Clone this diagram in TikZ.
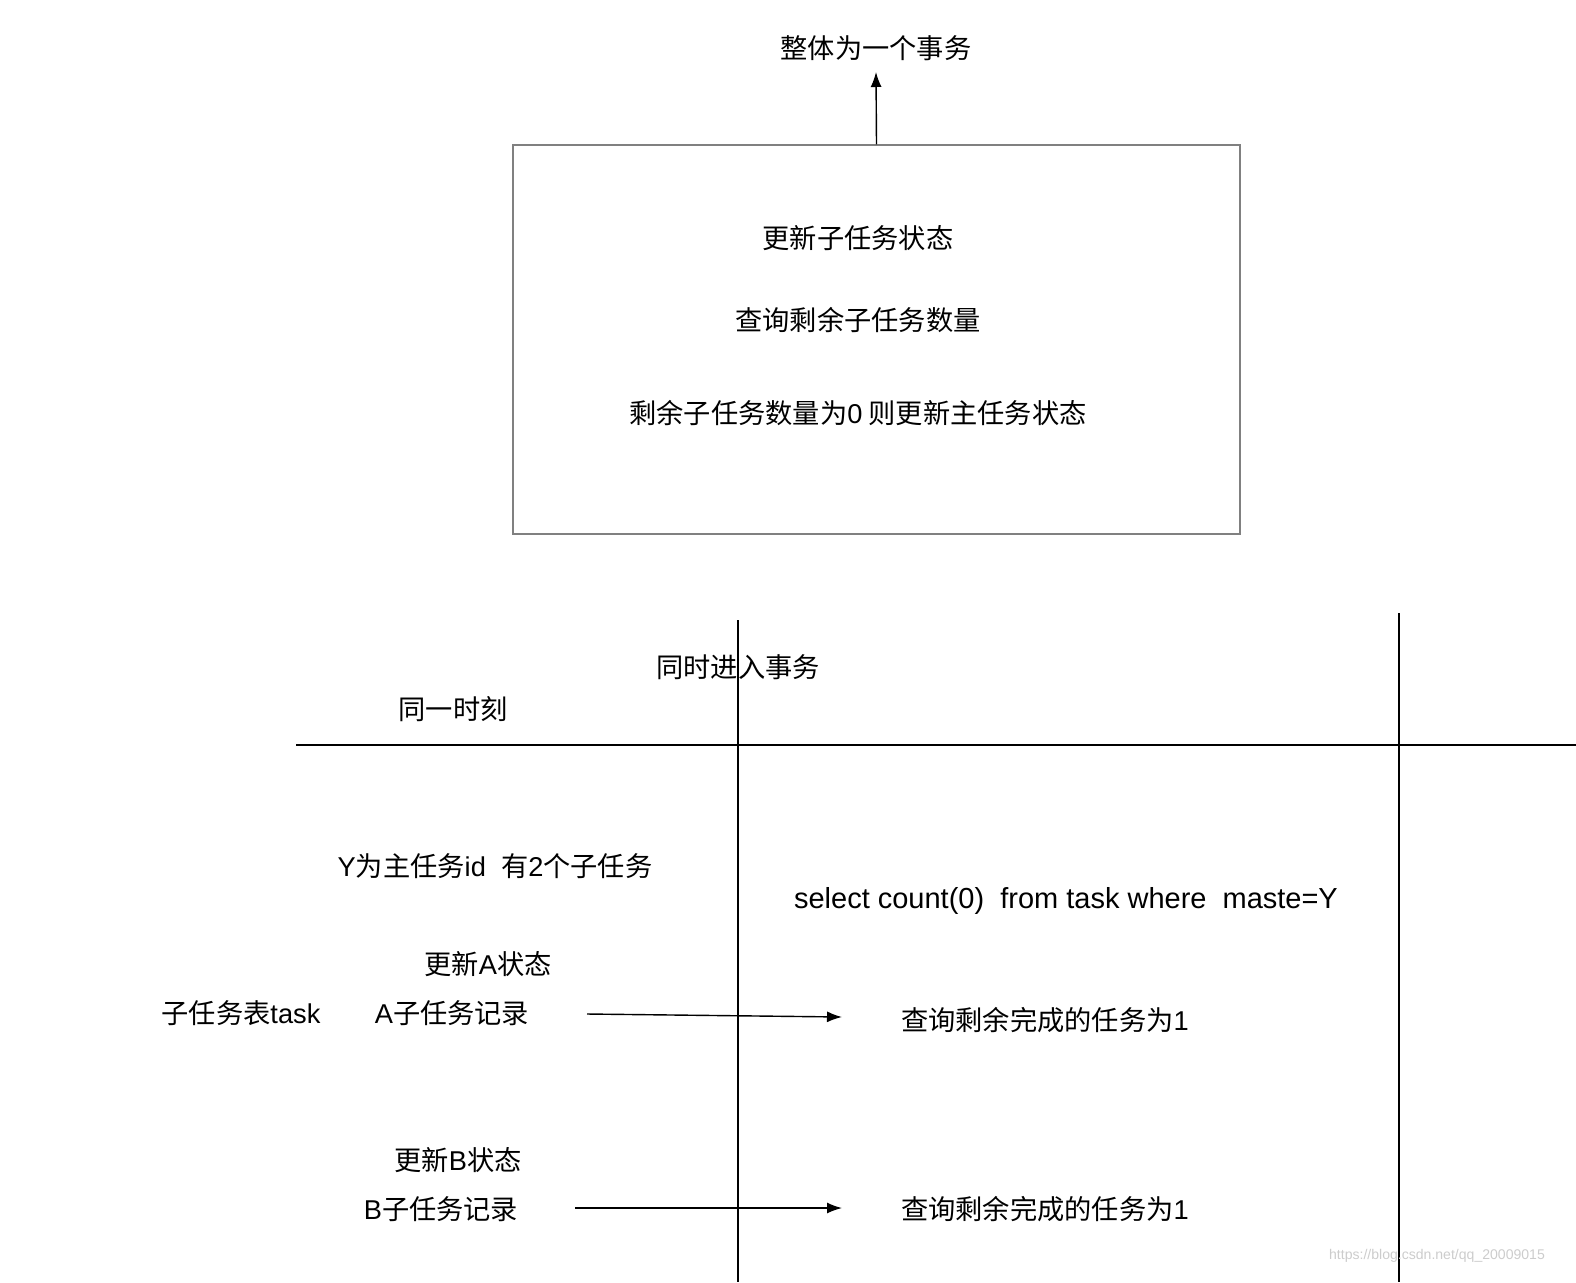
\documentclass[tikz,border=0pt]{standalone}
\usepackage{fontspec}
\setmainfont{Noto Sans CJK SC}
\newfontfamily\lat{Liberation Sans}
\usetikzlibrary{arrows.meta,positioning}

\begin{document}
\begin{tikzpicture}[x=0.02cm,y=-0.02cm,>={Latex[length=3mm,width=2.2mm]}]
	\tikzset{txt/.style={inner sep=0pt,font=\fontsize{15.5}{18}\selectfont},
		rule/.style={draw,line width=0.8pt}}
	\useasboundingbox (0,0) rectangle (1576,1282);

	%% top box
	\node[draw=gray,line width=0.8pt,minimum width=727*0.02cm,minimum height=389*0.02cm] (box) at (876.5,339.5) {};
	\node[txt] (whole) at (876,48) {整体为一个事务};
	\draw[->,line width=0.8pt] (box.north) -- (876,72) coordinate (wholein);
	\node[txt] (upd) at (858,238) {更新子任务状态};
	\node[txt] (qry) at (858,320) {查询剩余子任务数量};
	\node[txt] (rest) at (858,413) {剩余子任务数量为{\lat 0} 则更新主任务状态};

	%% table
	\coordinate (hl) at (296,745);
	\coordinate (hr) at (1576,745);
	\coordinate (v1t) at (738,620);
	\coordinate (v1b) at (738,1282);
	\coordinate (v2t) at (1399,613);
	\coordinate (v2b) at (1399,1282);
	\draw[rule] (hl) -- (hr);
	\draw[rule] (v1t) -- (v1b);
	\draw[rule] (v2t) -- (v2b);

	\node[txt] (enter) at (738,667) {同时进入事务};
	\node[txt] (same) at (453,709) {同一时刻};
	\node[txt] (ymain) at (495,866) {{\lat Y}为主任务{\lat id\ \ }有{\lat 2}个子任务};
	\node[txt,font=\lat\fontsize{16.5}{19}\selectfont] (sql) at (1066,901) {select count(0)\ \ from task where\ \ maste=Y};

	\node[txt] (updA) at (488,964) {更新{\lat A}状态};
	\node[txt] (tbl) at (241,1013) {子任务表{\lat task}};
	\node[txt] (recA) at (452,1013) {{\lat A}子任务记录};
	\node[txt] (resA) at (1045,1020) {查询剩余完成的任务为{\lat 1}};
	\coordinate (aS) at (587,1014);
	\coordinate (aE) at (842,1017);
	\draw[->,line width=0.8pt] (aS) -- (aE);

	\node[txt] (updB) at (458,1160) {更新{\lat B}状态};
	\node[txt] (recB) at (441,1209) {{\lat B}子任务记录};
	\node[txt] (resB) at (1045,1209) {查询剩余完成的任务为{\lat 1}};
	\coordinate (bS) at (575,1208);
	\coordinate (bE) at (842,1208);
	\draw[->,line width=0.8pt] (bS) -- (bE);

	\node[inner sep=0pt,text=black!20,font=\lat\fontsize{8}{10}\selectfont] (mark) at (1437,1256) {https://blog.csdn.net/qq\_20009015};
\end{tikzpicture}
\end{document}
